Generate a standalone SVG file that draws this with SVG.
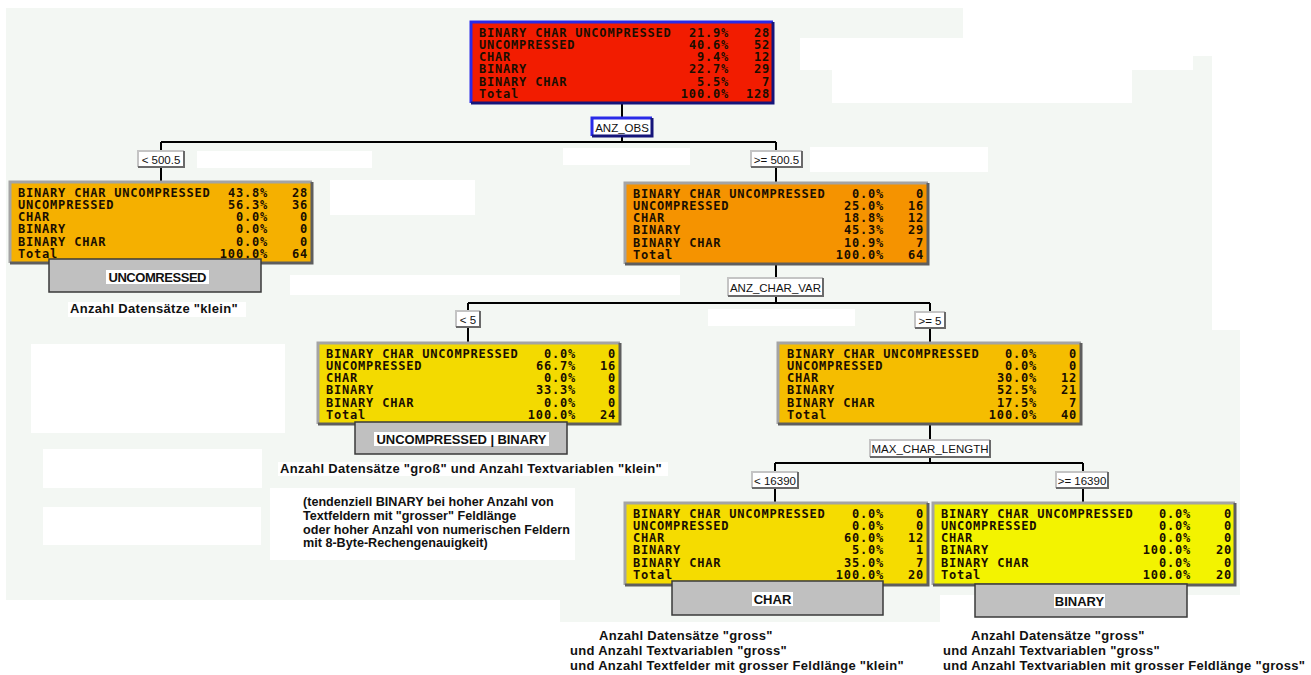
<svg xmlns="http://www.w3.org/2000/svg" width="1311" height="675" viewBox="0 0 1311 675">
<style>
.bg{fill:#F3F7F3}
.wp{fill:#FFFFFF}
.hi{fill:none;stroke:#A4A4A4;stroke-width:3}
.sh{fill:none;stroke:#5E5E5E;stroke-width:3}
.bhi{fill:none;stroke:#2A2AE8;stroke-width:3}
.bsh{fill:none;stroke:#15157A;stroke-width:3}
.nt{font-family:"DejaVu Sans Mono","Liberation Mono",monospace;font-weight:bold;font-size:12px;letter-spacing:0.8px;fill:#1A0E00}
.r{text-anchor:end}
.edge{fill:none;stroke:#000;stroke-width:2}
.lb{fill:#FFFFFF}
.lhi{fill:none;stroke:#C4C4C4;stroke-width:2}
.lsh{fill:none;stroke:#6A6A6A;stroke-width:2}
.lt{font-family:"Liberation Sans",Arial,sans-serif;font-size:11.5px;fill:#111;text-anchor:middle}
.leaf{fill:#C0C0C0;stroke:#3A3A3A;stroke-width:1.5}
.lft{font-family:"Liberation Sans",Arial,sans-serif;font-weight:bold;font-size:13px;fill:#111;text-anchor:middle}
.an{font-family:"Liberation Sans",Arial,sans-serif;font-weight:bold;font-size:13px;letter-spacing:0.3px;fill:#111}
.pa{font-family:"Liberation Sans",Arial,sans-serif;font-weight:bold;font-size:12.6px;fill:#111}
</style>

<g id="background">
<rect width="1311" height="675" fill="#FFFFFF"/>
<path class="bg" d="M6,8 H963 V56 H1212 V330 H1240 V595 H940 V622 H560 V600 H6 Z"/>
<rect class="wp" x="800" y="38" width="393" height="32"/>
<rect class="wp" x="832" y="68" width="300" height="35"/>
<rect class="wp" x="197" y="151" width="175" height="17"/>
<rect class="wp" x="563" y="148" width="127" height="17"/>
<rect class="wp" x="810" y="147" width="178" height="25"/>
<rect class="wp" x="330" y="180" width="145" height="35"/>
<rect class="wp" x="290" y="275" width="390" height="20"/>
<rect class="wp" x="708" y="309" width="147" height="17"/>
<rect class="wp" x="68" y="302" width="178" height="15"/>
<rect class="wp" x="31" y="344" width="254" height="89"/>
<rect class="wp" x="43" y="449" width="219" height="39"/>
<rect class="wp" x="43" y="507" width="218" height="38"/>
<rect class="wp" x="270" y="488" width="305" height="72"/>
<rect class="wp" x="278" y="462" width="390" height="14"/>
</g>

<g id="connectors">
<path class="edge" d="M622,103 V142 M161,142 H776 M161,142 V182 M776,142 V183"/>
<path class="edge" d="M776,264 V303 M468,303 H930 M468,303 V343 M930,303 V343"/>
<path class="edge" d="M930,424 V463 M775,463 H1083 M775,463 V503 M1083,463 V503"/>
</g>

<g id="labels">
<g id="lbl-anz-obs">
<rect class="lb" x="592" y="118" width="60" height="18"/>
<path class="bhi" d="M592,136 V118 H652"/><path class="bsh" d="M592,136 H652 V118"/>
<text class="lt" x="622" y="132">ANZ_OBS</text>
</g>
<g id="lbl-lt500">
<rect class="lb" x="138" y="151" width="46" height="16"/>
<path class="lhi" d="M138,167 V151 H184"/><path class="lsh" d="M138,167 H184 V151"/>
<text class="lt" x="161" y="163.5">&lt; 500.5</text>
</g>
<g id="lbl-ge500">
<rect class="lb" x="751" y="151" width="51" height="16"/>
<path class="lhi" d="M751,167 V151 H802"/><path class="lsh" d="M751,167 H802 V151"/>
<text class="lt" x="776.5" y="163.5">&gt;= 500.5</text>
</g>
<g id="lbl-anz-char-var">
<rect class="lb" x="728" y="278" width="95" height="18"/>
<path class="lhi" d="M728,296 V278 H823"/><path class="lsh" d="M728,296 H823 V278"/>
<text class="lt" x="775.5" y="291.5">ANZ_CHAR_VAR</text>
</g>
<g id="lbl-lt5">
<rect class="lb" x="456" y="311" width="24" height="16"/>
<path class="lhi" d="M456,327 V311 H480"/><path class="lsh" d="M456,327 H480 V311"/>
<text class="lt" x="468" y="323.5">&lt; 5</text>
</g>
<g id="lbl-ge5">
<rect class="lb" x="915" y="312" width="30" height="16"/>
<path class="lhi" d="M915,328 V312 H945"/><path class="lsh" d="M915,328 H945 V312"/>
<text class="lt" x="930" y="324.5">&gt;= 5</text>
</g>
<g id="lbl-max-char-length">
<rect class="lb" x="870" y="440" width="120" height="17"/>
<path class="lhi" d="M870,457 V440 H990"/><path class="lsh" d="M870,457 H990 V440"/>
<text class="lt" x="930" y="453">MAX_CHAR_LENGTH</text>
</g>
<g id="lbl-lt16390">
<rect class="lb" x="752" y="472" width="46" height="16"/>
<path class="lhi" d="M752,488 V472 H798"/><path class="lsh" d="M752,488 H798 V472"/>
<text class="lt" x="775" y="484.5">&lt; 16390</text>
</g>
<g id="lbl-ge16390">
<rect class="lb" x="1056" y="472" width="52" height="16"/>
<path class="lhi" d="M1056,488 V472 H1108"/><path class="lsh" d="M1056,488 H1108 V472"/>
<text class="lt" x="1082" y="484.5">&gt;= 16390</text>
</g>
</g>

<g id="node-root">
<rect x="471" y="22" width="302" height="81" fill="#F21C00"/>
<path class="bhi" d="M471,103 V22 H773"/><path class="bsh" d="M471,103 H773 V22"/>
<g class="nt">
<text x="479" y="36.5">BINARY CHAR UNCOMPRESSED</text><text class="r" x="729" y="36.5">21.9%</text><text class="r" x="770" y="36.5">28</text>
<text x="479" y="48.8">UNCOMPRESSED</text><text class="r" x="729" y="48.8">40.6%</text><text class="r" x="770" y="48.8">52</text>
<text x="479" y="61.1">CHAR</text><text class="r" x="729" y="61.1">9.4%</text><text class="r" x="770" y="61.1">12</text>
<text x="479" y="73.4">BINARY</text><text class="r" x="729" y="73.4">22.7%</text><text class="r" x="770" y="73.4">29</text>
<text x="479" y="85.7">BINARY CHAR</text><text class="r" x="729" y="85.7">5.5%</text><text class="r" x="770" y="85.7">7</text>
<text x="479" y="98">Total</text><text class="r" x="729" y="98">100.0%</text><text class="r" x="770" y="98">128</text>
</g>
</g>

<g id="node-lt500">
<rect x="10" y="182" width="302" height="81" fill="#F5B000"/>
<path class="hi" d="M10,263 V182 H312"/><path class="sh" d="M10,263 H312 V182"/>
<g class="nt">
<text x="18" y="196.5">BINARY CHAR UNCOMPRESSED</text><text class="r" x="268" y="196.5">43.8%</text><text class="r" x="308" y="196.5">28</text>
<text x="18" y="208.8">UNCOMPRESSED</text><text class="r" x="268" y="208.8">56.3%</text><text class="r" x="308" y="208.8">36</text>
<text x="18" y="221.1">CHAR</text><text class="r" x="268" y="221.1">0.0%</text><text class="r" x="308" y="221.1">0</text>
<text x="18" y="233.4">BINARY</text><text class="r" x="268" y="233.4">0.0%</text><text class="r" x="308" y="233.4">0</text>
<text x="18" y="245.7">BINARY CHAR</text><text class="r" x="268" y="245.7">0.0%</text><text class="r" x="308" y="245.7">0</text>
<text x="18" y="258">Total</text><text class="r" x="268" y="258">100.0%</text><text class="r" x="308" y="258">64</text>
</g>
<rect class="leaf" x="49" y="259" width="212" height="33"/>
<rect class="lb" x="106" y="270" width="103" height="14"/>
<text class="lft" x="157.5" y="282" textLength="98">UNCOMRESSED</text>
</g>

<g id="node-ge500">
<rect x="625" y="183" width="303" height="81" fill="#F59300"/>
<path class="hi" d="M625,264 V183 H928"/><path class="sh" d="M625,264 H928 V183"/>
<g class="nt">
<text x="633" y="197.5">BINARY CHAR UNCOMPRESSED</text><text class="r" x="884" y="197.5">0.0%</text><text class="r" x="924" y="197.5">0</text>
<text x="633" y="209.8">UNCOMPRESSED</text><text class="r" x="884" y="209.8">25.0%</text><text class="r" x="924" y="209.8">16</text>
<text x="633" y="222.1">CHAR</text><text class="r" x="884" y="222.1">18.8%</text><text class="r" x="924" y="222.1">12</text>
<text x="633" y="234.4">BINARY</text><text class="r" x="884" y="234.4">45.3%</text><text class="r" x="924" y="234.4">29</text>
<text x="633" y="246.7">BINARY CHAR</text><text class="r" x="884" y="246.7">10.9%</text><text class="r" x="924" y="246.7">7</text>
<text x="633" y="259">Total</text><text class="r" x="884" y="259">100.0%</text><text class="r" x="924" y="259">64</text>
</g>
</g>

<g id="node-lt5">
<rect x="318" y="343" width="302" height="81" fill="#F3DA00"/>
<path class="hi" d="M318,424 V343 H620"/><path class="sh" d="M318,424 H620 V343"/>
<g class="nt">
<text x="326" y="357.5">BINARY CHAR UNCOMPRESSED</text><text class="r" x="576" y="357.5">0.0%</text><text class="r" x="616" y="357.5">0</text>
<text x="326" y="369.8">UNCOMPRESSED</text><text class="r" x="576" y="369.8">66.7%</text><text class="r" x="616" y="369.8">16</text>
<text x="326" y="382.1">CHAR</text><text class="r" x="576" y="382.1">0.0%</text><text class="r" x="616" y="382.1">0</text>
<text x="326" y="394.4">BINARY</text><text class="r" x="576" y="394.4">33.3%</text><text class="r" x="616" y="394.4">8</text>
<text x="326" y="406.7">BINARY CHAR</text><text class="r" x="576" y="406.7">0.0%</text><text class="r" x="616" y="406.7">0</text>
<text x="326" y="419">Total</text><text class="r" x="576" y="419">100.0%</text><text class="r" x="616" y="419">24</text>
</g>
<rect class="leaf" x="355" y="422" width="212" height="32"/>
<rect class="lb" x="374" y="432" width="175" height="14"/>
<text class="lft" x="461.5" y="444" textLength="170">UNCOMPRESSED | BINARY</text>
</g>

<g id="node-ge5">
<rect x="778" y="343" width="303" height="81" fill="#F5BD00"/>
<path class="hi" d="M778,424 V343 H1081"/><path class="sh" d="M778,424 H1081 V343"/>
<g class="nt">
<text x="787" y="357.5">BINARY CHAR UNCOMPRESSED</text><text class="r" x="1037" y="357.5">0.0%</text><text class="r" x="1077" y="357.5">0</text>
<text x="787" y="369.8">UNCOMPRESSED</text><text class="r" x="1037" y="369.8">0.0%</text><text class="r" x="1077" y="369.8">0</text>
<text x="787" y="382.1">CHAR</text><text class="r" x="1037" y="382.1">30.0%</text><text class="r" x="1077" y="382.1">12</text>
<text x="787" y="394.4">BINARY</text><text class="r" x="1037" y="394.4">52.5%</text><text class="r" x="1077" y="394.4">21</text>
<text x="787" y="406.7">BINARY CHAR</text><text class="r" x="1037" y="406.7">17.5%</text><text class="r" x="1077" y="406.7">7</text>
<text x="787" y="419">Total</text><text class="r" x="1037" y="419">100.0%</text><text class="r" x="1077" y="419">40</text>
</g>
</g>

<g id="node-lt16390">
<rect x="625" y="503" width="303" height="82" fill="#F5DC00"/>
<path class="hi" d="M625,585 V503 H928"/><path class="sh" d="M625,585 H928 V503"/>
<g class="nt">
<text x="633" y="517.5">BINARY CHAR UNCOMPRESSED</text><text class="r" x="884" y="517.5">0.0%</text><text class="r" x="924" y="517.5">0</text>
<text x="633" y="529.8">UNCOMPRESSED</text><text class="r" x="884" y="529.8">0.0%</text><text class="r" x="924" y="529.8">0</text>
<text x="633" y="542.1">CHAR</text><text class="r" x="884" y="542.1">60.0%</text><text class="r" x="924" y="542.1">12</text>
<text x="633" y="554.4">BINARY</text><text class="r" x="884" y="554.4">5.0%</text><text class="r" x="924" y="554.4">1</text>
<text x="633" y="566.7">BINARY CHAR</text><text class="r" x="884" y="566.7">35.0%</text><text class="r" x="924" y="566.7">7</text>
<text x="633" y="579">Total</text><text class="r" x="884" y="579">100.0%</text><text class="r" x="924" y="579">20</text>
</g>
<rect class="leaf" x="672" y="581" width="211" height="34"/>
<rect class="lb" x="752" y="592" width="41" height="14"/>
<text class="lft" x="772.5" y="604">CHAR</text>
</g>

<g id="node-ge16390">
<rect x="933" y="503" width="302" height="82" fill="#F3F300"/>
<path class="hi" d="M933,585 V503 H1235"/><path class="sh" d="M933,585 H1235 V503"/>
<g class="nt">
<text x="941" y="517.5">BINARY CHAR UNCOMPRESSED</text><text class="r" x="1191" y="517.5">0.0%</text><text class="r" x="1232" y="517.5">0</text>
<text x="941" y="529.8">UNCOMPRESSED</text><text class="r" x="1191" y="529.8">0.0%</text><text class="r" x="1232" y="529.8">0</text>
<text x="941" y="542.1">CHAR</text><text class="r" x="1191" y="542.1">0.0%</text><text class="r" x="1232" y="542.1">0</text>
<text x="941" y="554.4">BINARY</text><text class="r" x="1191" y="554.4">100.0%</text><text class="r" x="1232" y="554.4">20</text>
<text x="941" y="566.7">BINARY CHAR</text><text class="r" x="1191" y="566.7">0.0%</text><text class="r" x="1232" y="566.7">0</text>
<text x="941" y="579">Total</text><text class="r" x="1191" y="579">100.0%</text><text class="r" x="1232" y="579">20</text>
</g>
<rect class="leaf" x="975" y="584" width="212" height="33"/>
<rect class="lb" x="1054" y="594" width="51" height="14"/>
<text class="lft" x="1079.5" y="606">BINARY</text>
</g>

<g id="annotations">
<text class="an" x="70" y="313">Anzahl Datensätze "klein"</text>
<text class="an" x="280" y="473">Anzahl Datensätze "groß" und Anzahl Textvariablen "klein"</text>
<text class="pa" x="303" y="506">(tendenziell BINARY bei hoher Anzahl von</text>
<text class="pa" x="303" y="520">Textfeldern mit "grosser" Feldlänge</text>
<text class="pa" x="303" y="533.5">oder hoher Anzahl von numerischen Feldern</text>
<text class="pa" x="303" y="547">mit 8-Byte-Rechengenauigkeit)</text>
<text class="an" x="599" y="640">Anzahl Datensätze "gross"</text>
<text class="an" x="570" y="655">und Anzahl Textvariablen "gross"</text>
<text class="an" x="570" y="670">und Anzahl Textfelder mit grosser Feldlänge "klein"</text>
<text class="an" x="971" y="640">Anzahl Datensätze "gross"</text>
<text class="an" x="943" y="655">und Anzahl Textvariablen "gross"</text>
<text class="an" x="943" y="670">und Anzahl Textvariablen mit grosser Feldlänge "gross"</text>
</g>
</svg>
